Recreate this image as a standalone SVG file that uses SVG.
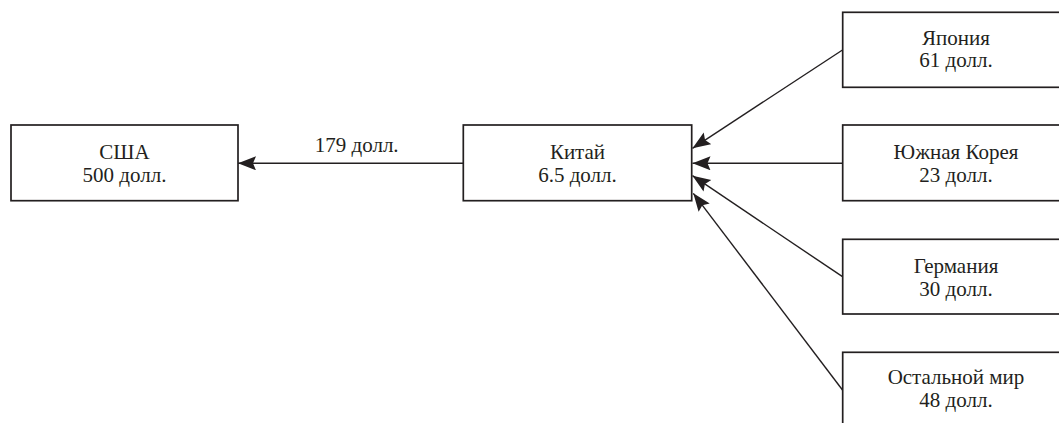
<svg xmlns="http://www.w3.org/2000/svg" width="1059" height="423" viewBox="0 0 1059 423">
<style>
.box{fill:#fff;stroke:#231f20;stroke-width:1.7}
.t{font-family:"Liberation Serif","Times New Roman",serif;font-size:21px;fill:#231f20;text-anchor:middle}
.c{stroke:#231f20;stroke-width:1.4;fill:none}
</style>
<defs>
<marker id="ah" markerUnits="userSpaceOnUse" markerWidth="20" markerHeight="16" refX="18" refY="7" orient="auto">
<path d="M0,0 L18,7 L0,14 L3,7 Z" fill="#231f20"/>
</marker>
</defs>
<rect width="1059" height="423" fill="#fff"/>
<g id="connectors">
<line class="c" x1="463" y1="163.3" x2="238" y2="163.3" marker-end="url(#ah)"/>
<line class="c" x1="842.5" y1="50" x2="692.5" y2="148.3" marker-end="url(#ah)"/>
<line class="c" x1="842.5" y1="163.3" x2="692.5" y2="163.3" marker-end="url(#ah)"/>
<line class="c" x1="842.5" y1="276.7" x2="692.5" y2="175.7" marker-end="url(#ah)"/>
<line class="c" x1="842.5" y1="390" x2="693.3" y2="193.3" marker-end="url(#ah)"/>
<text class="t" x="356.7" y="151.7">179 долл.</text>
</g>
<g id="usa">
<rect class="box" x="11" y="125" width="227" height="75.7"/>
<text class="t" x="124.5" y="159">США</text>
<text class="t" x="124.5" y="181.5">500 долл.</text>
</g>
<g id="china">
<rect class="box" x="463.3" y="125" width="228.4" height="75.7"/>
<text class="t" x="577.5" y="159">Китай</text>
<text class="t" x="577.5" y="181.5">6.5 долл.</text>
</g>
<g id="japan">
<rect class="box" x="842.7" y="12.3" width="227" height="75"/>
<text class="t" x="956" y="44.5">Япония</text>
<text class="t" x="956" y="67">61 долл.</text>
</g>
<g id="korea">
<rect class="box" x="842.7" y="125" width="227" height="75.7"/>
<text class="t" x="956" y="159">Южная Корея</text>
<text class="t" x="956" y="181.5">23 долл.</text>
</g>
<g id="germany">
<rect class="box" x="842.7" y="239.3" width="227" height="74.7"/>
<text class="t" x="956" y="273">Германия</text>
<text class="t" x="956" y="295.5">30 долл.</text>
</g>
<g id="rest">
<rect class="box" x="842.7" y="352.3" width="227" height="80"/>
<text class="t" x="956" y="384">Остальной мир</text>
<text class="t" x="956" y="406.5">48 долл.</text>
</g>
</svg>
